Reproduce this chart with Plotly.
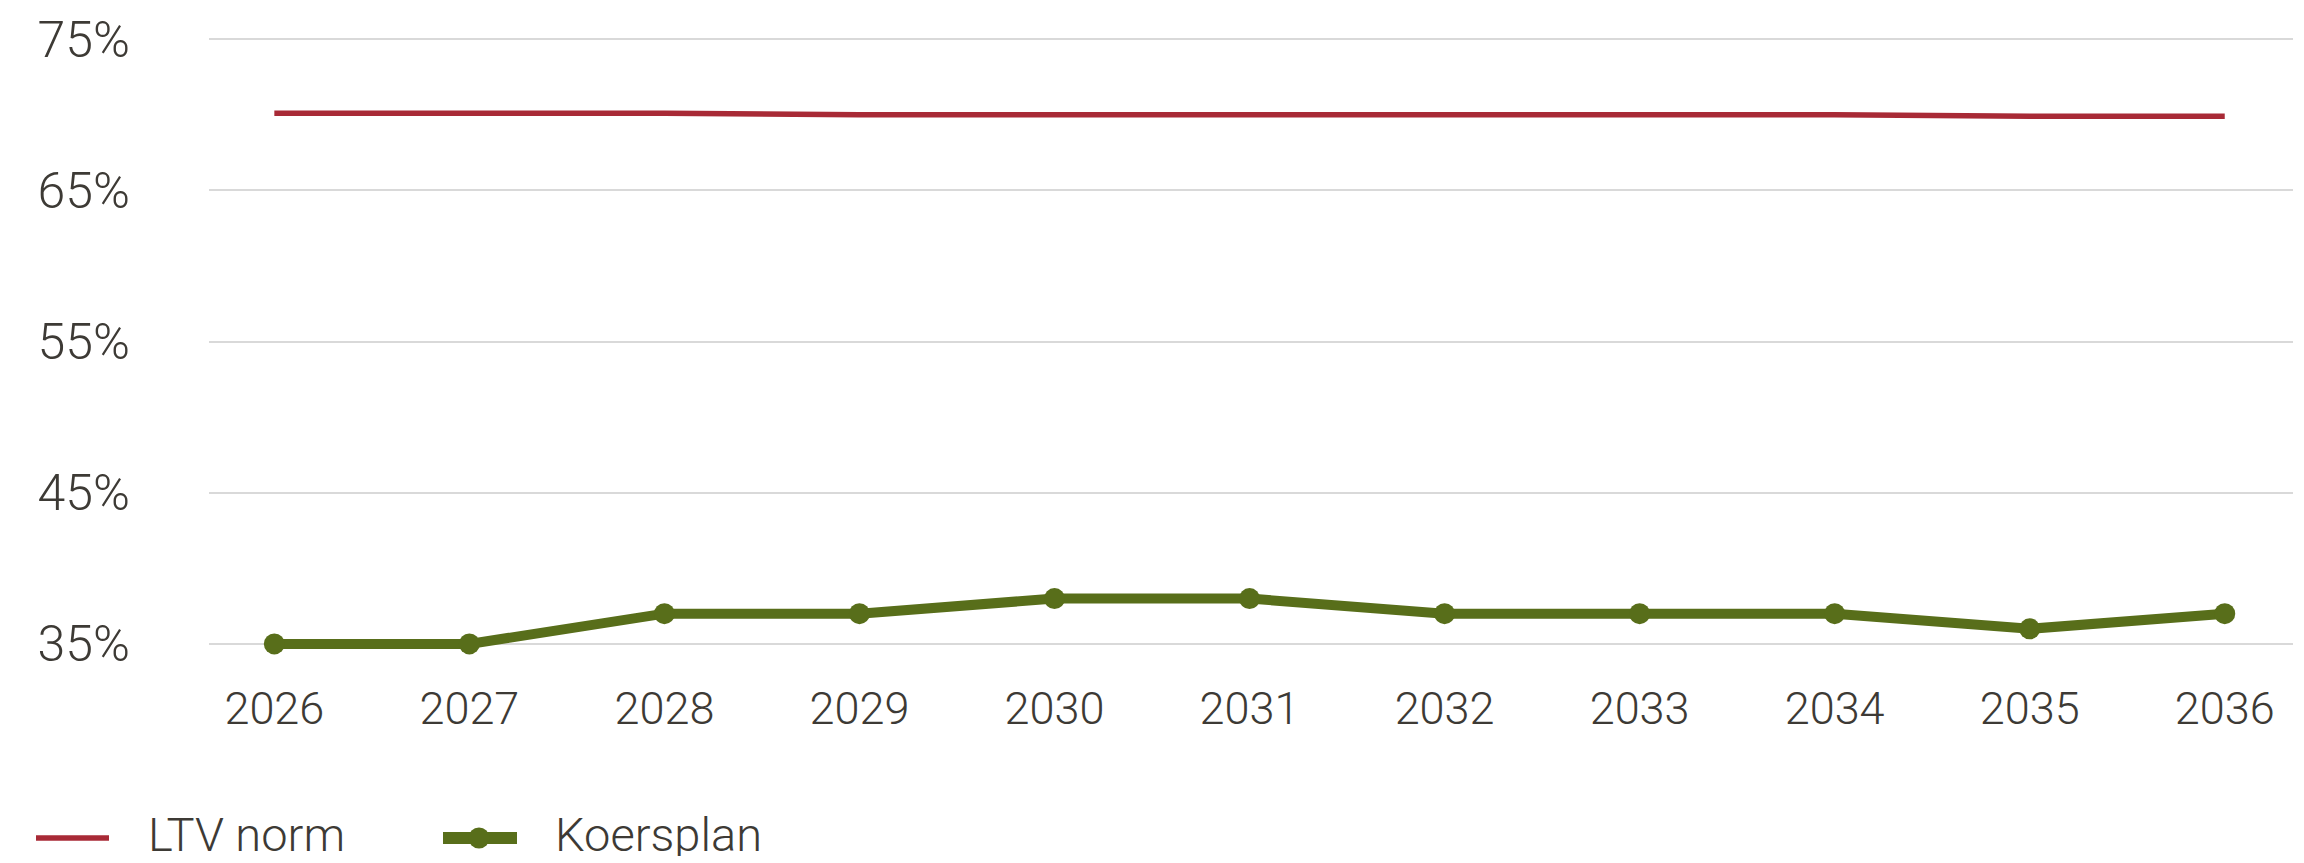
import plotly.graph_objects as go

years = ["2026", "2027", "2028", "2029", "2030", "2031", "2032", "2033", "2034", "2035", "2036"]
ltv_norm = [70.1, 70.1, 70.1, 70.0, 70.0, 70.0, 70.0, 70.0, 70.0, 69.9, 69.9]
koersplan = [35, 35, 37, 37, 38, 38, 37, 37, 37, 36, 37]
y_ticks = [35, 45, 55, 65, 75]
y_ticktext = ["35%", "45%", "55%", "65%", "75%"]

RED = "#a82a36"
GREEN = "#586e1a"
TXT = "#3d3a35"
FONT = "Roboto"
WEIGHT = 300

W, H = 2304, 863
UNIT = (644 - 39.5) / 40.0          # px per percentage point
EXT = 0.6                            # range extension so lines on edges are not clipped
L, R = 209, 11
T = 39.5 - EXT * UNIT
B = H - (644 + EXT * UNIT)
PW, PH = W - L - R, H - T - B

def px(x):
    return (x - L) / PW

def py(y):
    return (H - B - y) / PH

xs = list(range(len(years)))

fig = go.Figure()
fig.add_trace(go.Scatter(x=xs, y=ltv_norm, mode="lines", name="LTV norm",
                         line=dict(color=RED, width=5.5), cliponaxis=False,
                         showlegend=False))
fig.add_trace(go.Scatter(x=xs, y=koersplan, mode="lines+markers", name="Koersplan",
                         line=dict(color=GREEN, width=10),
                         marker=dict(color=GREEN, size=21),
                         cliponaxis=False, showlegend=False))

LY = 838  # legend symbol row
shapes = [
    dict(type="line", xref="paper", yref="paper", x0=px(36), x1=px(109), y0=py(LY), y1=py(LY),
         line=dict(color=RED, width=5.5)),
    dict(type="line", xref="paper", yref="paper", x0=px(443), x1=px(517), y0=py(LY), y1=py(LY),
         line=dict(color=GREEN, width=12)),
    dict(type="circle", xref="paper", yref="paper", x0=px(468.5), x1=px(489.5), y0=py(LY + 10.5), y1=py(LY - 10.5),
         fillcolor=GREEN, line=dict(color=GREEN, width=0)),
]
lfont = dict(family=FONT, size=47, color=TXT, weight=WEIGHT)
annotations = [
    dict(text="LTV norm", xref="paper", yref="paper", x=px(146), y=py(834), xanchor="left",
         yanchor="middle", height=44, valign="middle", showarrow=False, font=lfont),
    dict(text="Koersplan", xref="paper", yref="paper", x=px(553), y=py(834), xanchor="left",
         yanchor="middle", height=44, valign="middle", showarrow=False, font=lfont),
]

fig.update_layout(
    width=W, height=H,
    margin=dict(l=L, r=R, t=T, b=B, pad=0),
    paper_bgcolor="white", plot_bgcolor="white",
    font=dict(family=FONT, color=TXT, size=45, weight=WEIGHT),
    shapes=shapes, annotations=annotations,
    xaxis=dict(range=[-0.335, 10.35], tickmode="array", tickvals=xs, ticktext=years,
               showgrid=False, zeroline=False, showline=False, ticks="",
               ticklabelstandoff=25,
               tickfont=dict(family=FONT, size=45, color=TXT, weight=WEIGHT)),
    yaxis=dict(range=[35 - EXT, 75 + EXT], tickmode="array", tickvals=y_ticks, ticktext=y_ticktext,
               showgrid=True, gridcolor="#d9d9d9", gridwidth=2, zeroline=False,
               showline=False, ticks="", ticklabelstandoff=78,
               tickfont=dict(family=FONT, size=50, color=TXT, weight=WEIGHT)),
)

fig.write_html("out.html")
